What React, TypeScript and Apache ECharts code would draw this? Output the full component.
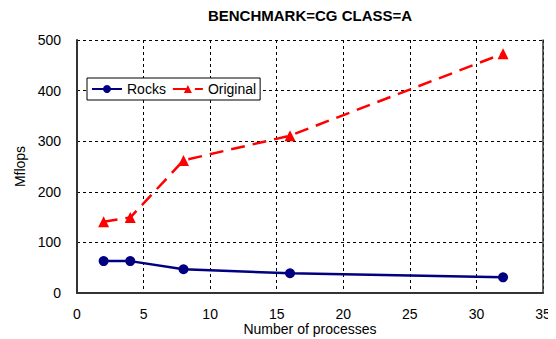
import React, { useEffect, useRef } from "react";
import * as echarts from "echarts";

const processes = [2, 4, 8, 16, 32];
const rocks = [63, 63, 47, 39, 31];
const original = [141, 149, 262, 311, 473];
const xTicks = [0, 35, 5];
const yTicks = [0, 500, 100];

export default function App() {
  const ref = useRef<HTMLDivElement>(null);
  useEffect(() => {
    const chart = echarts.init(ref.current!, null, { renderer: "svg" });
    const font = "Liberation Sans, Arial, sans-serif";
    chart.setOption({
      animation: false,
      textStyle: { fontFamily: font },
      title: {
        text: "BENCHMARK=CG CLASS=A",
        left: 302,
        textAlign: "center",
        top: 0,
        padding: 0,
        textStyle: { fontSize: 15, fontWeight: "bold", color: "#000", fontFamily: font },
      },
      grid: { left: 69, right: 13, top: 32, bottom: 46, containLabel: false, outerBoundsMode: "none" },
      legend: {
        left: 79,
        top: 70,
        orient: "horizontal",
        backgroundColor: "#fff",
        borderColor: "#000",
        borderWidth: 1,
        borderRadius: 0,
        padding: [4, 4, 4, 4],
        itemGap: 6,
        itemWidth: 30,
        itemHeight: 10,
        textStyle: { fontSize: 14, color: "#000", fontFamily: font },
        data: ["Rocks", "Original"],
      },
      xAxis: {
        type: "value",
        min: xTicks[0],
        max: xTicks[1],
        interval: xTicks[2],
        name: "Number of processes",
        nameLocation: "middle",
        nameGap: 29,
        nameMoveOverlap: false,
        nameTextStyle: { fontSize: 14, lineHeight: 14, color: "#000", fontFamily: font },
        axisLine: { show: true, lineStyle: { color: "#333", width: 2 } },
        axisTick: { show: false },
        axisLabel: { fontSize: 14, lineHeight: 14, color: "#000", margin: 14, fontFamily: font },
        splitLine: { show: true, lineStyle: { color: "#000", type: [3, 3], width: 1 } },
      },
      yAxis: [
        {
          type: "value",
          min: yTicks[0],
          max: yTicks[1],
          interval: yTicks[2],
          name: "Mflops",
          nameLocation: "middle",
          nameGap: 50,
          nameMoveOverlap: false,
          nameTextStyle: { fontSize: 14, color: "#000", fontFamily: font },
          axisLine: { show: true, lineStyle: { color: "#333", width: 2 } },
          axisTick: { show: false },
          axisLabel: { fontSize: 14, color: "#000", margin: 16, fontFamily: font },
          splitLine: { show: true, lineStyle: { color: "#000", type: [3, 3], width: 1 } },
        },
        {
          type: "value",
          position: "right",
          min: yTicks[0],
          max: yTicks[1],
          interval: yTicks[2],
          axisLine: { show: true, lineStyle: { color: "#333", width: 1.5 } },
          axisTick: { show: false },
          axisLabel: { show: false },
          splitLine: { show: false },
        },
      ],
      series: [
        {
          name: "Rocks",
          type: "line",
          data: processes.map((p, i) => [p, rocks[i]]),
          symbol: "circle",
          symbolSize: 10,
          itemStyle: { color: "#000080" },
          lineStyle: { color: "#000080", width: 2.5 },
        },
        {
          name: "Original",
          type: "line",
          data: processes.map((p, i) => [p, original[i]]),
          symbol: "triangle",
          symbolSize: 11,
          itemStyle: { color: "#ff0000" },
          lineStyle: { color: "#ff0000", width: 2.5, type: [14, 8] },
        },
      ],
    });
    return () => chart.dispose();
  }, []);
  return <div ref={ref} style={{ width: 548, height: 331 }} />;
}
